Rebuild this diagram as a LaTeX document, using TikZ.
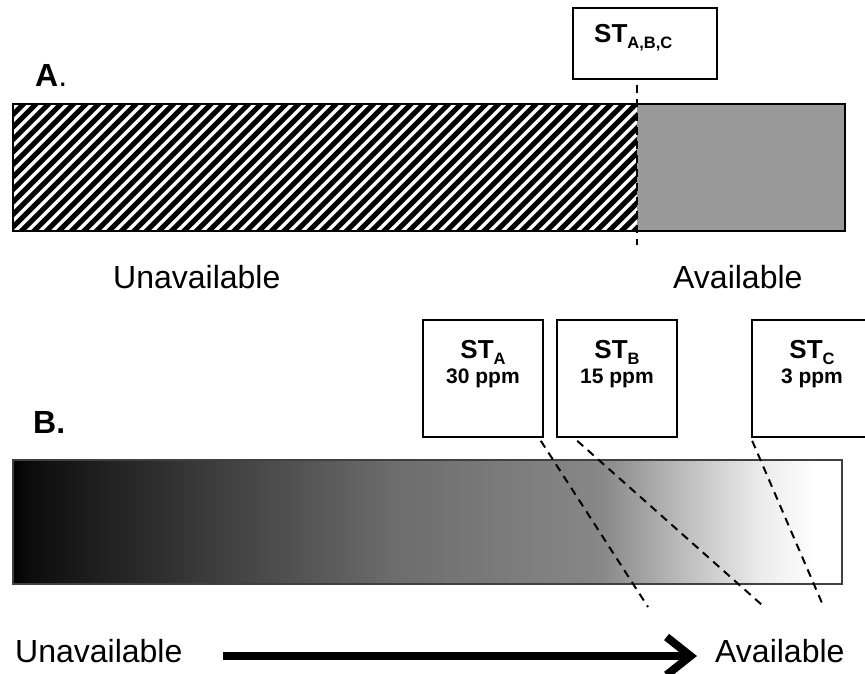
\documentclass[tikz,border=0pt]{standalone}
\usepackage{fontspec}
\setmainfont{Liberation Sans}
\usetikzlibrary{arrows.meta,calc}
\pgfdeclarehorizontalshading{bgrad}{100bp}{color(0bp)=(black); color(25bp)=(black); color(26bp)=(black!95); color(48.34bp)=(black!57); color(60.4bp)=(black!47); color(66.43bp)=(black!22); color(70bp)=(black!8); color(73.49bp)=(white); color(100bp)=(white)}
\newcommand{\stsub}[1]{ST\raisebox{-6pt}{\fontsize{16.5}{19}\selectfont #1}}
\begin{document}
\begin{tikzpicture}[x=1pt,y=-1pt,
  stbox/.style={draw=black,line width=1.6pt,fill=white,inner sep=0pt,minimum width=120pt,minimum height=117pt},
  bigtxt/.style={font=\fontsize{32}{38}\selectfont,inner sep=0pt,anchor=base west},
  lbl/.style={font=\fontsize{32}{38}\selectfont\bfseries,inner sep=0pt,anchor=base west},
  sttxt/.style={font=\fontsize{26}{30}\selectfont\bfseries,inner sep=0pt,anchor=base},
  ppmtxt/.style={font=\fontsize{21}{25}\selectfont\bfseries,inner sep=0pt,anchor=base},
  dashln/.style={line width=2pt,dash pattern=on 8pt off 6pt},
  barframe/.style={draw=black,line width=1.8pt}]
\useasboundingbox (0,0) rectangle (865,673);
\clip (0,0) rectangle (865,673);
\fill[white] (0,0) rectangle (865,673);

% ---------- Part A ----------
\node[lbl] (labA) at (35,86) {A\textmd{.}};

% hatched (unavailable) part
\begin{scope}
  \clip (13,104) rectangle (637,231);
  \fill[white] (13,104) rectangle (637,231);
  \foreach \i in {0,...,62}
    \draw[line width=5pt] ({-120+\i*12.5},235) -- ++(135,-135);
\end{scope}
% grey (available) part
\fill[black!40] (637,104) rectangle (845,231);
\draw[barframe] (13,104) rectangle (845,231);
\draw[line width=1.8pt] (637,231) -- (647,231);

\node[draw=black,line width=1.6pt,fill=white,inner sep=0pt,minimum width=144pt,minimum height=71pt] (stabc) at (645,43.5) {};
\node[sttxt,anchor=base west] (stabct) at (594,42) {\stsub{A,B,C}};
\coordinate (cutAtop) at ($(stabc.south)+(-8,5)$);
\coordinate (cutAbot) at (637,245);
\draw[dashln] (cutAtop) -- (cutAbot);

\node[bigtxt] (unavA) at (113,288) {Unavailable};
\node[bigtxt] (avA) at (673,288) {Available};

% ---------- Part B ----------
\node[lbl] (labB) at (33,433) {B.};

\shade[shading=bgrad] (13,460) rectangle (842,584);
\draw[line width=1.3pt,black!75] (13,460) rectangle (842,584);

\node[stbox] (sta) at (483,378.5) {};
\node[stbox] (stb) at (617,378.5) {};
\node[stbox] (stc) at (812,378.5) {};

\node[sttxt] (statxt) at (483,358) {\stsub{A}};
\node[ppmtxt] (stappm) at (483,383) {30 ppm};
\node[sttxt] (stbtxt) at (617,358) {\stsub{B}};
\node[ppmtxt] (stbppm) at (617,383) {15 ppm};
\node[sttxt] (stctxt) at (812,358) {\stsub{C}};
\node[ppmtxt] (stcppm) at (812,383) {3 ppm};

\coordinate (endA) at (648,607);
\coordinate (endB) at (762,605);
\coordinate (endC) at (822,603);
\draw[dashln] ($(sta.south east)+(-3,3)$) -- (endA);
\draw[dashln] ($(stb.south west)+(21,3)$) -- (endB);
\draw[dashln] ($(stc.south west)+(1,3)$) -- (endC);

\node[bigtxt] (unavB) at (15,662) {Unavailable};
\node[bigtxt] (avB) at (715,662) {Available};
\coordinate (arrS) at ($(unavB.base east)+(40,-6)$);
\coordinate (arrE) at ($(avB.base west)+(-18,-6)$);
\draw[line width=8pt,-{Straight Barb[length=24pt,width=38pt]}] (arrS) -- (arrE);
\end{tikzpicture}
\end{document}
